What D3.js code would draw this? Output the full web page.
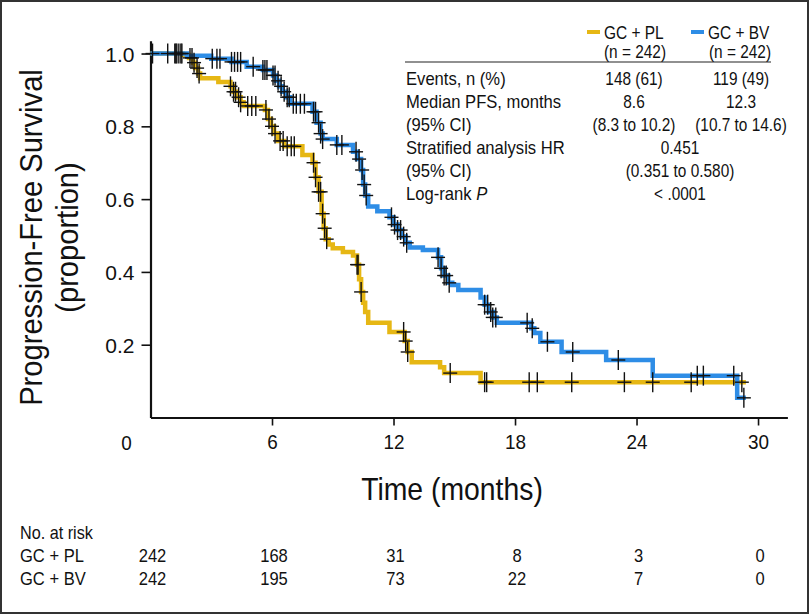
<!DOCTYPE html>
<html>
<head>
<meta charset="utf-8">
<script src="https://cdn.jsdelivr.net/npm/d3@7"></script>
<style>
  html, body { margin: 0; padding: 0; background: #fff; }
  svg { display: block; }
  text { font-family: "Liberation Sans", Arial, sans-serif; fill: #111; }
</style>
</head>
<body>
<svg id="chart" width="809" height="614"></svg>
<script>
// ---------- DATA ----------
const seriesNames = ["GC + PL", "GC + BV"];
const seriesN = ["(n = 242)", "(n = 242)"];
// step knots: [time (months), survival after that time]
const stepsPL = [
  [0, 1.0], [1.6, 0.996], [1.9, 0.988], [2.1, 0.975], [2.2, 0.96], [2.35, 0.945], [2.45, 0.932],
  [3.35, 0.922], [3.95, 0.91], [4.1, 0.895], [4.25, 0.88], [4.45, 0.866], [4.6, 0.856],
  [5.65, 0.845], [5.8, 0.82], [5.95, 0.80], [6.1, 0.78], [6.3, 0.76], [6.6, 0.745],
  [7.5, 0.721], [8.0, 0.70], [8.15, 0.66], [8.3, 0.62], [8.45, 0.56], [8.55, 0.52], [8.65, 0.49],
  [8.8, 0.475], [9.0, 0.465], [9.5, 0.455], [10.0, 0.445], [10.2, 0.42], [10.3, 0.38], [10.4, 0.345],
  [10.5, 0.315], [10.6, 0.29], [10.75, 0.26], [11.8, 0.235], [12.55, 0.21], [12.7, 0.18],
  [12.9, 0.152], [14.3, 0.138], [14.5, 0.122], [16.3, 0.097]
];
const endPL = 29.4;
const stepsBV = [
  [0, 1.0], [1.8, 0.994], [3.0, 0.986], [4.0, 0.977], [4.75, 0.964], [5.55, 0.955],
  [6.05, 0.94], [6.2, 0.925], [6.35, 0.91], [6.5, 0.895], [6.7, 0.88], [6.9, 0.862],
  [8.0, 0.84], [8.2, 0.81], [8.4, 0.78], [8.5, 0.765], [9.2, 0.749], [10.0, 0.73],
  [10.2, 0.71], [10.4, 0.68], [10.5, 0.64], [10.6, 0.61], [10.75, 0.58], [11.2, 0.567],
  [11.8, 0.55], [12.0, 0.53], [12.2, 0.515], [12.4, 0.497], [12.6, 0.48], [12.8, 0.467],
  [13.45, 0.46], [14.2, 0.44], [14.35, 0.41], [14.5, 0.39], [14.7, 0.37], [14.9, 0.364],
  [15.2, 0.35], [16.3, 0.33], [16.5, 0.31], [16.7, 0.29], [16.9, 0.275], [17.1, 0.26],
  [18.8, 0.245], [18.95, 0.232], [19.25, 0.208], [20.3, 0.18], [22.5, 0.158], [24.8, 0.115],
  [28.97, 0.054]
];
const endBV = 29.4;
// censoring times (months)
const censorPL = [1.3, 1.5, 1.95, 2.05, 2.15, 2.3, 2.4, 3.95, 4.1, 4.2, 4.35, 4.45, 4.8, 5.0, 5.2,
  5.7, 5.85, 6.0, 6.15, 6.4, 6.55, 6.75, 6.95, 7.1, 8.05, 8.15, 8.3, 8.4, 8.5, 8.6, 8.7,
  10.2, 10.25, 10.4, 12.5, 12.6, 12.7, 14.8, 16.5, 16.6, 18.7, 19.1, 20.8, 23.4, 24.8, 26.7, 29.2];
const censorBV = [0.1, 0.85, 1.2, 1.25, 1.4, 1.55, 3.05, 3.28, 3.43, 4.0, 4.15, 4.3, 4.45, 5.07,
  5.55, 5.65, 5.75, 6.05, 6.15, 6.3, 6.45, 6.6, 6.75, 6.85, 7.05, 7.2, 7.4, 7.6,
  8.05, 8.15, 8.3, 8.4, 8.5, 9.2, 9.45, 10.15, 10.3, 10.45, 10.55, 10.65,
  11.9, 12.05, 12.2, 12.35, 12.5, 12.65, 14.2, 14.35, 14.5, 14.6, 14.75,
  16.5, 16.65, 16.8, 16.9, 17.05, 18.6, 18.85, 19.6, 20.85, 23.1, 27.0, 27.3, 28.8, 29.3];
const xTicks = [6, 12, 18, 24, 30];
const yTicks = [0.2, 0.4, 0.6, 0.8, 1.0];
const tableRows = ["Events, n (%)", "Median PFS, months", "(95% CI)", "Stratified analysis HR", "(95% CI)", "Log-rank "];
const colPL = ["148 (61)", "8.6", "(8.3 to 10.2)", "", "", ""];
const colBV = ["119 (49)", "12.3", "(10.7 to 14.6)", "", "", ""];
const colBoth = ["", "", "", "0.451", "(0.351 to 0.580)", "< .0001"];
const riskTimes = [0, 6, 12, 18, 24, 30];
const riskPL = [242, 168, 31, 8, 3, 0];
const riskBV = [242, 195, 73, 22, 7, 0];

// ---------- DRAW ----------
const colors = ["#E6B714", "#2E8DE6"];
const svg = d3.select("#chart");

// text helper: real text, horizontally condensed by sx
function T(parent, x, y, str, size, anchor, sx) {
  return parent.append("text")
    .attr("transform", `translate(${x},${y}) scale(${sx || 1},1)`)
    .attr("text-anchor", anchor || "start")
    .style("font-size", size + "px")
    .text(str);
}

svg.append("rect").attr("x", 1).attr("y", 1).attr("width", 807).attr("height", 612)
  .attr("fill", "none").attr("stroke", "#333").attr("stroke-width", 2);

const x = d3.scaleLinear().domain([0, 31.45]).range([150.5, 787.4]);
const y = d3.scaleLinear().domain([0, 1.035]).range([417.5, 40.8]);

// axes
const xAxis = svg.append("g").attr("transform", "translate(0,417.5)")
  .call(d3.axisBottom(x).tickValues(xTicks).tickSize(8).tickSizeOuter(0).tickFormat(d3.format("d")));
xAxis.select(".domain").attr("stroke", "#111").attr("stroke-width", 2.2);
xAxis.selectAll(".tick line").attr("stroke", "#111").attr("stroke-width", 1.6);
xAxis.selectAll(".tick text").attr("y", 32).attr("dy", 0).style("font-size", "21px")
  .attr("transform", "scale(0.9,1)");
T(xAxis, x(0) - 24, 32, "0", 21, "middle", 0.9);

const yAxis = svg.append("g").attr("transform", "translate(150.5,0)")
  .call(d3.axisLeft(y).tickValues(yTicks).tickSize(9).tickSizeOuter(0).tickPadding(7).tickFormat(d3.format(".1f")));
yAxis.select(".domain").attr("stroke", "#111").attr("stroke-width", 2.2);
yAxis.selectAll(".tick line").attr("stroke", "#111").attr("stroke-width", 1.6);
yAxis.selectAll(".tick text").style("font-size", "21px").attr("dy", "0.36em");

// curves
function stepPts(steps, end) { return steps.concat([[end, steps[steps.length - 1][1]]]); }
function survAt(steps, t) { let s = 1; for (const k of steps) { if (k[0] <= t) s = k[1]; } return s; }
const line = d3.line().x(d => x(d[0])).y(d => y(d[1])).curve(d3.curveStepAfter);

const curveData = [
  { steps: stepsPL, end: endPL, cens: censorPL, color: colors[0] },
  { steps: stepsBV, end: endBV, cens: censorBV, color: colors[1] }
];
svg.append("g").selectAll("path").data(curveData).join("path")
  .attr("d", d => line(stepPts(d.steps, d.end)))
  .attr("fill", "none").attr("stroke", d => d.color).attr("stroke-width", 4.5);

const censG = svg.append("g").attr("stroke", "#111").attr("stroke-width", 1.4);
curveData.forEach(c => {
  c.cens.forEach(t => {
    const cx = x(t), cy = y(survAt(c.steps, t));
    censG.append("line").attr("x1", cx - 7).attr("x2", cx + 7).attr("y1", cy).attr("y2", cy);
    censG.append("line").attr("x1", cx).attr("x2", cx).attr("y1", cy - 10).attr("y2", cy + 10);
  });
});

// axis titles
T(svg, 452, 500, "Time (months)", 30.5, "middle", 0.93);
const yt = svg.append("text").attr("transform", "translate(0,237.5) rotate(-90) scale(0.955,1)")
  .attr("text-anchor", "middle").style("font-size", "30.5px");
yt.append("tspan").attr("x", 0).attr("y", 42).text("Progression-Free Survival");
yt.append("tspan").attr("x", 0).attr("y", 78).text("(proportion)");

// legend / stats table
const leg = svg.append("g");
const colX = [634, 739];
seriesNames.forEach((nm, i) => {
  const lx = [587, 691][i];
  leg.append("line").attr("x1", lx).attr("x2", lx + 13).attr("y1", 32).attr("y2", 32)
    .attr("stroke", colors[i]).attr("stroke-width", 4);
  T(leg, lx + 17, 38.5, nm, 18, "start", 0.86);
  T(leg, colX[i] + 1, 58, seriesN[i], 17.5, "middle", 0.88);
});
leg.append("line").attr("x1", 405).attr("x2", 771).attr("y1", 62).attr("y2", 62)
  .attr("stroke", "#222").attr("stroke-width", 1.2);
tableRows.forEach((r, i) => {
  const by = 84.7 + i * 23.06;
  const t = T(leg, 406, by, r, 17.5, "start", 0.95);
  if (i === tableRows.length - 1) t.append("tspan").style("font-style", "italic").text("P");
  if (colPL[i]) T(leg, colX[0], by, colPL[i], 17.5, "middle", 0.88);
  if (colBV[i]) T(leg, colX[1] + 2, by, colBV[i], 17.5, "middle", 0.88);
  if (colBoth[i]) T(leg, 680, by, colBoth[i], 17.5, "middle", 0.88);
});

// number at risk
const risk = svg.append("g");
T(risk, 20, 539, "No. at risk", 18, "start", 0.9);
[["GC + PL", riskPL, 562], ["GC + BV", riskBV, 585]].forEach(([nm, vals, by]) => {
  T(risk, 20, by, nm, 18, "start", 0.92);
  vals.forEach((v, i) => {
    T(risk, x(riskTimes[i]) + 2, by, v, 18, "middle", 0.92);
  });
});
</script>
</body>
</html>
